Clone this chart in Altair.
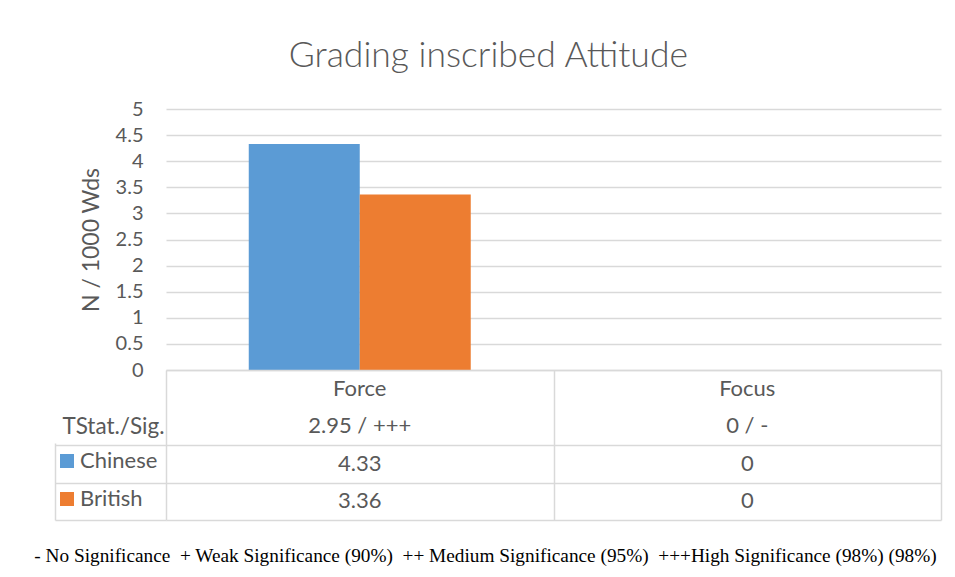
import altair as alt
import pandas as pd

# ---- data ----
categories = ["Force", "Focus"]
series = ["Chinese", "British"]
chinese = [4.33, 0]
british = [3.36, 0]
tstat_sig = ["2.95 / +++", "0 / -"]
row_names = ["hdr", "TStat./Sig.", "Chinese", "British"]
y_ticks = [0, 0.5, 1, 1.5, 2, 2.5, 3, 3.5, 4, 4.5, 5]
colors = ["#5B9BD5", "#ED7D31"]
title_text = "Grading inscribed Attitude"
y_title = "N / 1000 Wds"
footer = ("- No Significance\u00a0 + Weak Significance (90%)\u00a0 ++ Medium Significance (95%)"
          "\u00a0 +++High Significance (98%) (98%)")

FONT = "Lato"
GRAY = "#595959"
GRID = "#D9D9D9"

values = {"Chinese": chinese, "British": british}
bars_df = pd.DataFrame(
    [{"category": c, "series": s, "value": values[s][i]}
     for s in series for i, c in enumerate(categories)]
)

def fmt(v):
    return "{:g}".format(v)

rows = []
for i, c in enumerate(categories):
    rows.append({"category": c, "row": "hdr", "label": c})
    rows.append({"category": c, "row": "TStat./Sig.", "label": tstat_sig[i]})
    rows.append({"category": c, "row": "Chinese", "label": fmt(chinese[i])})
    rows.append({"category": c, "row": "British", "label": fmt(british[i])})
table_df = pd.DataFrame(rows)

bars = alt.Chart(bars_df).mark_bar().encode(
    x=alt.X("category:N", sort=categories,
            scale=alt.Scale(paddingInner=0, paddingOuter=0),
            axis=alt.Axis(title=None, labels=False, domain=False, grid=False,
                          ticks=True, bandPosition=0, tickSize=150,
                          tickOffset=-111, tickColor=GRID, tickWidth=1.5,
                          tickDash=[0, 73, 77],
                          tickOpacity={"condition": {"test": "datum.value == 'Focus'", "value": 0}, "value": 1})),
    xOffset=alt.XOffset("series:N", sort=series,
                        scale=alt.Scale(paddingInner=0, paddingOuter=0.7455)),
    y=alt.Y("value:Q", scale=alt.Scale(domain=[0, 5], nice=False),
            axis=alt.Axis(values=y_ticks, format=".1~f", title=y_title,
                          grid=True, gridColor=GRID, gridWidth=1.5,
                          domain=False, ticks=False, labelPadding=23,
                          labelFontSize=20, labelColor=GRAY, labelFont=FONT,
                          titleFont=FONT, titleFontSize=23, titleColor=GRAY,
                          titleFontWeight="normal", titleX=-75, titleY=130.5,
                          titleAngle=270, titleAlign="center",
                          titleBaseline="middle")),
    color=alt.Color("series:N", sort=series,
                    scale=alt.Scale(domain=series, range=colors),
                    legend=alt.Legend(title=None, orient="none", legendX=-110,
                                      legendY=341, symbolType="square",
                                      symbolSize=196, symbolStrokeWidth=0,
                                      labelFont=FONT, labelFontSize=22,
                                      labelColor=GRAY, labelOffset=2,
                                      rowPadding=16, padding=0,
                                      direction="vertical")),
).properties(width=775, height=261)

table = alt.Chart(table_df).mark_text(
    font=FONT, fontSize=22, color=GRAY, baseline="middle", align="center"
).encode(
    x=alt.X("category:N", sort=categories,
            scale=alt.Scale(paddingInner=0, paddingOuter=0),
            axis=alt.Axis(labels=False, ticks=False, domain=False, grid=True,
                          tickBand="extent", gridColor=GRID, gridWidth=1.5,
                          title=footer, titleFont="Liberation Serif",
                          titleFontSize=19.3, titleColor="black",
                          titleFontWeight="normal", titleX=319, titleY=35,
                          titleAlign="center", titleBaseline="middle")),
    y=alt.Y("row:N", sort=row_names,
            scale=alt.Scale(paddingInner=0, paddingOuter=0),
            axis=alt.Axis(title=None,
                          labelExpr="datum.value == 'TStat./Sig.' ? datum.value : ''",
                          labelAlign="right", labelPadding=-109, labelFont=FONT,
                          labelFontSize=22.5, labelColor=GRAY,
                          ticks=True, tickSize=111, tickColor=GRID, tickWidth=1.5,
                          tickBand="extent",
                          tickOpacity={"condition": {"test": "datum.value == 'hdr' || !datum.value", "value": 0}, "value": 1},
                          grid=True, gridColor=GRID, gridWidth=1.5,
                          gridOpacity={"condition": {"test": "datum.value == 'hdr'", "value": 0}, "value": 1},
                          domain=False)),
    text="label:N",
).properties(width=775, height=150)

chart = alt.vconcat(bars, table, spacing=0, bounds="flush").properties(
    title=alt.TitleParams(title_text, font=FONT, fontSize=35.5, color=GRAY,
                          fontWeight=300, anchor="middle", offset=25, dx=1),
    padding={"left": 25, "top": 30, "right": 4, "bottom": 0},
).configure_view(strokeWidth=0)

chart.save("out.html", embed_options={"renderer": "svg", "actions": False})
